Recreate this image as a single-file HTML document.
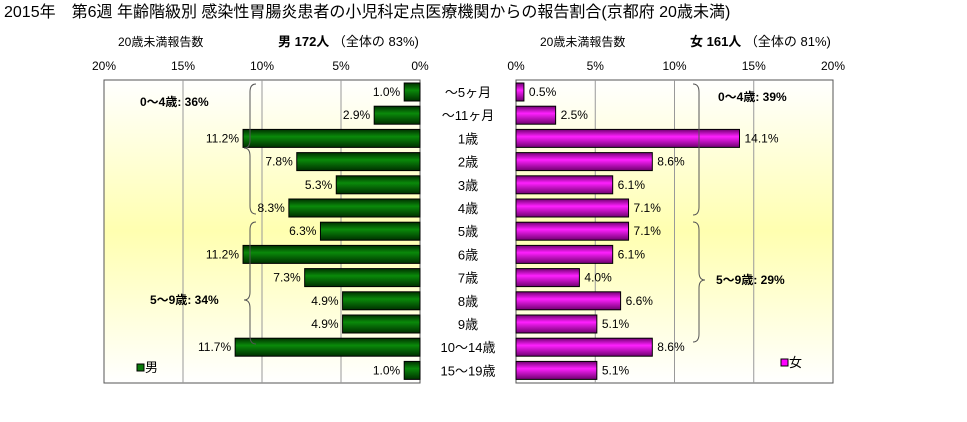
<!DOCTYPE html>
<html><head><meta charset="utf-8"><style>
body{margin:0;background:#fff;}
svg text{font-family:"Liberation Sans","Noto Sans CJK JP",sans-serif;}
</style></head><body>
<svg width="967" height="417" viewBox="0 0 967 417">
<defs>
<linearGradient id="bg" x1="0" y1="0" x2="0" y2="1">
<stop offset="0" stop-color="#ffffff"/><stop offset="0.5" stop-color="#ffffb0"/><stop offset="1" stop-color="#ffffff"/>
</linearGradient>
<linearGradient id="gm" x1="0" y1="0" x2="0" y2="1">
<stop offset="0" stop-color="#003000"/><stop offset="0.4" stop-color="#0a8a0a"/><stop offset="1" stop-color="#003000"/>
</linearGradient>
<linearGradient id="gf" x1="0" y1="0" x2="0" y2="1">
<stop offset="0" stop-color="#700070"/><stop offset="0.4" stop-color="#ff20ff"/><stop offset="1" stop-color="#700070"/>
</linearGradient>
</defs>
<text x="4" y="17" font-size="16">2015年　第6週 年齢階級別 感染性胃腸炎患者の小児科定点医療機関からの報告割合(京都府 20歳未満)</text>
<text x="118" y="46" font-size="12">20歳未満報告数</text>
<text x="278" y="46" font-size="13"><tspan font-weight="bold">男 172人</tspan> （全体の  83%)</text>
<text x="540" y="46" font-size="12">20歳未満報告数</text>
<text x="690" y="46" font-size="13"><tspan font-weight="bold">女 161人</tspan> （全体の  81%)</text>
<rect x="104" y="80" width="316" height="303" fill="url(#bg)" stroke="#555"/>
<rect x="516" y="80" width="317" height="303" fill="url(#bg)" stroke="#555"/>
<g id="grid"></g><g id="axes"></g><g id="bars"></g><g id="cats"></g>
<g fill="none" stroke="#555" stroke-width="1">
<path d="M256,84 q-6,0 -6,8 v48 q0,8 -6,8 q6,0 6,8 v50 q0,8 6,8"/>
<path d="M256,222 q-6,0 -6,8 v62 q0,8 -6,8 q6,0 6,8 v28 q0,8 6,8"/>
<path d="M693,84 q6,0 6,8 v115 q0,8 -6,8"/>
<path d="M693,222 q6,0 6,8 v42 q0,8 6,8 q-6,0 -6,8 v46 q0,8 -6,8"/>
</g>
<text x="140" y="106" font-size="12" font-weight="bold">0～4歳: 36%</text>
<text x="150" y="304" font-size="12" font-weight="bold">5～9歳: 34%</text>
<text x="718" y="101" font-size="12" font-weight="bold">0～4歳: 39%</text>
<text x="716" y="284" font-size="12" font-weight="bold">5～9歳: 29%</text>
<g><rect x="137" y="364" width="7" height="7" fill="#0a7a0a" stroke="#000"/><text x="145" y="372" font-size="13">男</text></g>
<g><rect x="781" y="359" width="7" height="7" fill="#ff00ff" stroke="#000"/><text x="789" y="367" font-size="13">女</text></g>
</svg>
<script>
const categories=["～5ヶ月","～11ヶ月","1歳","2歳","3歳","4歳","5歳","6歳","7歳","8歳","9歳","10～14歳","15～19歳"];
const maleValues=[1.0,2.9,11.2,7.8,5.3,8.3,6.3,11.2,7.3,4.9,4.9,11.7,1.0];
const femaleValues=[0.5,2.5,14.1,8.6,6.1,7.1,7.1,6.1,4.0,6.6,5.1,8.6,5.1];
const tickValues=[0,5,10,15,20];
const tickLabels=["0%","5%","10%","15%","20%"];
const NS="http://www.w3.org/2000/svg";
const xL=v=>420-v*15.8, xR=v=>516+v*15.85;
const rowY=i=>92+i*23.2;
function mk(t,a,p,txt){const e=document.createElementNS(NS,t);for(const k in a)e.setAttribute(k,a[k]);if(txt!==undefined)e.textContent=txt;p.appendChild(e);return e;}
const grid=document.getElementById('grid'),axes=document.getElementById('axes'),bars=document.getElementById('bars'),cats=document.getElementById('cats');
tickValues.forEach((v,i)=>{
 if(v>0&&v<20){
  const g1=mk('line',{x1:xL(v),x2:xL(v),y1:80,y2:383,stroke:'#999'},grid);
  
  const g2=mk('line',{x1:xR(v),x2:xR(v),y1:80,y2:383,stroke:'#999'},grid);
  
 }
 const t1=mk('text',{x:xL(v),y:70,'font-size':12,'text-anchor':'middle'},axes,tickLabels[i]);
 
 const t2=mk('text',{x:xR(v),y:70,'font-size':12,'text-anchor':'middle'},axes,tickLabels[i]);
 
});
categories.forEach((c,i)=>{
 const y=rowY(i);
 const ct=mk('text',{x:468,y:y+5,'font-size':13,'text-anchor':'middle'},cats,c);
 
 const mv=maleValues[i];
 const mb=mk('rect',{x:xL(mv),y:y-9,width:420-xL(mv),height:18,fill:'url(#gm)',stroke:'#000','stroke-width':1},bars);
 
 const ml=mk('text',{x:xL(mv)-4,y:y+4,'font-size':12,'text-anchor':'end'},bars,mv.toFixed(1)+'%');
 
 const fv=femaleValues[i];
 const fb=mk('rect',{x:516,y:y-9,width:xR(fv)-516,height:18,fill:'url(#gf)',stroke:'#000','stroke-width':1},bars);
 
 const fl=mk('text',{x:xR(fv)+5,y:y+4,'font-size':12},bars,fv.toFixed(1)+'%');
 
});
</script>
</body></html>
